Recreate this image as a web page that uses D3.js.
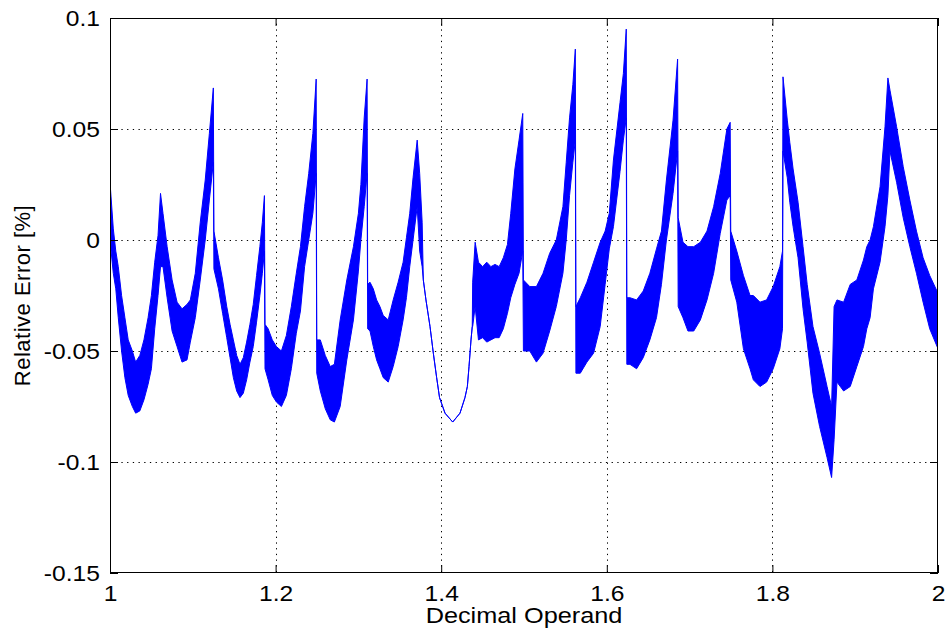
<!DOCTYPE html>
<html>
<head>
<meta charset="utf-8">
<script src="https://cdn.jsdelivr.net/npm/d3@7"></script>
<style>
  html, body { margin: 0; padding: 0; background: #fff; }
  svg text { font-family: "Liberation Sans", Arial, Helvetica, sans-serif; fill: #000; }
</style>
</head>
<body>
<svg id="chart" width="947" height="635"></svg>
<script>
// Decimal operand samples and the upper / lower envelope of the relative error [%]
const operand = [
  1.000, 1.004, 1.007, 1.010, 1.014, 1.018, 1.022, 1.027, 1.031, 1.036, 1.041, 1.046, 1.050, 1.054, 1.058, 1.061,
  1.064, 1.069, 1.075, 1.081, 1.087, 1.093, 1.097, 1.103, 1.109, 1.115, 1.120, 1.1248,
  1.1255, 1.131, 1.136, 1.141, 1.145, 1.149, 1.153, 1.157, 1.161, 1.165, 1.169, 1.173, 1.177, 1.181, 1.184, 1.1865,
  1.1872, 1.191, 1.196, 1.201, 1.207, 1.213, 1.219, 1.225, 1.230, 1.235, 1.240, 1.245, 1.2490,
  1.2497, 1.254, 1.260, 1.266, 1.271, 1.278, 1.286, 1.294, 1.300, 1.303, 1.307, 1.3105,
  1.3112, 1.314, 1.318, 1.322, 1.326, 1.330, 1.336, 1.342, 1.348, 1.354, 1.358, 1.362, 1.366, 1.371,
  1.374, 1.377, 1.3784, 1.3816, 1.3865, 1.3905, 1.3945, 1.398, 1.4046, 1.4139, 1.4227, 1.4287, 1.4316, 1.4336, 1.436, 1.4375,
  1.438, 1.441, 1.445, 1.450, 1.455, 1.460, 1.465, 1.470, 1.475, 1.480, 1.484, 1.489, 1.494, 1.4985,
  1.4993, 1.507, 1.515, 1.523, 1.531, 1.539, 1.547, 1.551, 1.555, 1.559, 1.562,
  1.5627, 1.568, 1.576, 1.584, 1.592, 1.598, 1.603, 1.608, 1.616, 1.620, 1.6235,
  1.6242, 1.628, 1.636, 1.644, 1.652, 1.660, 1.666, 1.672, 1.680, 1.6855,
  1.6862, 1.692, 1.698, 1.705, 1.713, 1.721, 1.729, 1.737, 1.745, 1.749,
  1.7497, 1.757, 1.765, 1.773, 1.777, 1.785, 1.793, 1.801, 1.809, 1.8122,
  1.8128, 1.818, 1.821, 1.825, 1.831, 1.837, 1.842, 1.849, 1.857, 1.866, 1.8715,
  1.8745, 1.878, 1.886, 1.894, 1.902, 1.910, 1.914, 1.918, 1.922, 1.930, 1.936, 1.9395,
  1.942, 1.950, 1.958, 1.966, 1.974, 1.982, 1.990, 2.000
];

const errUpper = [
  0.026, 0.005, -0.005, -0.012, -0.025, -0.035, -0.045, -0.050, -0.055, -0.052, -0.045, -0.035, -0.025, -0.010, 0.002, 0.021,
  0.012, -0.003, -0.018, -0.028, -0.031, -0.029, -0.027, -0.015, 0.008, 0.027, 0.048, 0.0685,
  0.004, -0.008, -0.018, -0.030, -0.038, -0.045, -0.052, -0.056, -0.053, -0.046, -0.038, -0.029, -0.016, -0.003, 0.008, 0.020,
  -0.038, -0.040, -0.045, -0.048, -0.050, -0.043, -0.030, -0.015, -0.003, 0.015, 0.030, 0.048, 0.0725,
  -0.045, -0.045, -0.052, -0.057, -0.056, -0.036, -0.018, -0.003, 0.012, 0.025, 0.055, 0.0725,
  -0.020, -0.019, -0.022, -0.027, -0.030, -0.034, -0.036, -0.027, -0.019, -0.010, 0.001, 0.012, 0.028, 0.045,
  0.030, 0.008, -0.018, -0.027, -0.039, -0.051, -0.062, -0.071, -0.078, -0.082, -0.078, -0.071, -0.066, -0.057, -0.045, -0.039,
  -0.019, -0.001, -0.010, -0.012, -0.010, -0.012, -0.011, -0.012, -0.008, -0.002, 0.012, 0.032, 0.045, 0.057,
  -0.018, -0.021, -0.021, -0.015, -0.006, 0.000, 0.015, 0.035, 0.055, 0.070, 0.086,
  -0.030, -0.026, -0.019, -0.010, -0.001, 0.004, 0.012, 0.036, 0.062, 0.075, 0.095,
  -0.026, -0.026, -0.027, -0.023, -0.015, -0.004, 0.004, 0.027, 0.054, 0.0815,
  0.010, -0.001, -0.003, -0.003, -0.001, 0.004, 0.015, 0.030, 0.050, 0.053,
  0.004, -0.005, -0.016, -0.025, -0.025, -0.028, -0.027, -0.021, -0.012, -0.005,
  0.0735, 0.054, 0.044, 0.032, 0.017, -0.003, -0.020, -0.039, -0.051, -0.066, -0.075,
  -0.030, -0.027, -0.028, -0.020, -0.018, -0.009, -0.003, 0.000, 0.006, 0.024, 0.051, 0.073,
  0.0675, 0.051, 0.033, 0.018, 0.004, -0.008, -0.016, -0.024
];

const errLower = [
  0.000, -0.015, -0.022, -0.035, -0.050, -0.062, -0.070, -0.075, -0.078, -0.077, -0.072, -0.065, -0.058, -0.040, -0.025, -0.012,
  -0.012, -0.026, -0.041, -0.048, -0.055, -0.054, -0.046, -0.035, -0.018, 0.000, 0.018, 0.035,
  -0.013, -0.022, -0.033, -0.044, -0.053, -0.062, -0.068, -0.071, -0.069, -0.063, -0.055, -0.048, -0.037, -0.025, -0.015, -0.005,
  -0.058, -0.063, -0.070, -0.073, -0.075, -0.070, -0.058, -0.042, -0.032, -0.012, 0.000, 0.012, 0.030,
  -0.060, -0.068, -0.076, -0.081, -0.082, -0.075, -0.054, -0.036, -0.014, 0.000, 0.015, 0.030,
  -0.040, -0.041, -0.048, -0.054, -0.058, -0.062, -0.064, -0.057, -0.048, -0.036, -0.026, -0.012, 0.000, 0.015,
  -0.005, -0.012, -0.018, -0.027, -0.039, -0.051, -0.062, -0.071, -0.078, -0.082, -0.078, -0.071, -0.066, -0.057, -0.045, -0.039,
  -0.039, -0.030, -0.045, -0.044, -0.046, -0.045, -0.044, -0.044, -0.040, -0.033, -0.026, -0.020, -0.015, -0.005,
  -0.050, -0.050, -0.055, -0.051, -0.041, -0.030, -0.015, 0.000, 0.020, 0.035, 0.045,
  -0.060, -0.060, -0.055, -0.051, -0.039, -0.020, -0.004, 0.006, 0.031, 0.045, 0.055,
  -0.056, -0.056, -0.058, -0.053, -0.045, -0.035, -0.020, 0.000, 0.021, 0.040,
  -0.030, -0.035, -0.041, -0.041, -0.036, -0.027, -0.015, 0.003, 0.018, 0.020,
  -0.018, -0.028, -0.049, -0.058, -0.063, -0.066, -0.064, -0.058, -0.049, -0.040,
  0.040, 0.028, 0.017, 0.006, -0.008, -0.031, -0.046, -0.069, -0.084, -0.098, -0.107,
  -0.090, -0.064, -0.068, -0.066, -0.057, -0.048, -0.040, -0.035, -0.022, -0.010, 0.006, 0.020,
  0.040, 0.026, 0.010, -0.003, -0.015, -0.028, -0.040, -0.049
];

const xTicks = [1, 1.2, 1.4, 1.6, 1.8, 2];
const yTicks = [-0.15, -0.1, -0.05, 0, 0.05, 0.1];
const xTitle = "Decimal Operand";
const yTitle = "Relative Error [%]";

const svg = d3.select("#chart");
const margin = { left: 110, top: 18, right: 9, bottom: 62 };
const W = 947 - margin.left - margin.right;
const H = 635 - margin.top - margin.bottom;

const x = d3.scaleLinear().domain([1, 2]).range([0, W]);
const y = d3.scaleLinear().domain([-0.15, 0.1]).range([H, 0]);

const g = svg.append("g").attr("transform", `translate(${margin.left},${margin.top})`);

// dotted grid
const grid = g.append("g").attr("stroke", "#000").attr("stroke-width", 1)
  .attr("stroke-dasharray", "1.3,4.4").attr("fill", "none");
grid.selectAll("line.gx").data(xTicks.slice(1, -1)).join("line")
  .attr("x1", d => Math.round(x(d)) + 0.5).attr("x2", d => Math.round(x(d)) + 0.5)
  .attr("y1", 0).attr("y2", H);
grid.selectAll("line.gy").data(yTicks.slice(1, -1)).join("line")
  .attr("y1", d => Math.round(y(d)) + 0.5).attr("y2", d => Math.round(y(d)) + 0.5)
  .attr("x1", 0).attr("x2", W);

// error envelope
const series = operand.map((v, i) => ({ v, hi: errUpper[i], lo: errLower[i] }));
svg.append("defs").append("clipPath").attr("id", "plotClip")
  .append("rect").attr("width", W).attr("height", H);

const band = d3.area()
  .x(d => x(d.v))
  .y0(d => y(d.lo))
  .y1(d => y(d.hi));

g.append("path")
  .datum(series)
  .attr("clip-path", "url(#plotClip)")
  .attr("d", band)
  .attr("fill", "#0000ff")
  .attr("stroke", "#0000ff")
  .attr("stroke-width", 1)
  .attr("stroke-linejoin", "round");

// axes: labelled bottom/left, inward ticks on all four sides
const tick = 8;
const fmt = d => String(d);

const ax = g.append("g").attr("transform", `translate(0,${H})`)
  .call(d3.axisBottom(x).tickValues(xTicks).tickFormat(fmt).tickSizeInner(-tick).tickSizeOuter(0).tickPadding(12));
const ay = g.append("g")
  .call(d3.axisLeft(y).tickValues(yTicks).tickFormat(fmt).tickSizeInner(-tick).tickSizeOuter(0).tickPadding(9));
const at = g.append("g")
  .call(d3.axisTop(x).tickValues(xTicks).tickFormat("").tickSizeInner(-tick).tickSizeOuter(0));
const ar = g.append("g").attr("transform", `translate(${W},0)`)
  .call(d3.axisRight(y).tickValues(yTicks).tickFormat("").tickSizeInner(-tick).tickSizeOuter(0));

[ax, ay, at, ar].forEach(a => {
  a.select(".domain").remove();
  a.selectAll(".tick line").attr("stroke", "#000").attr("stroke-width", 1);
  a.selectAll("text").attr("font-size", 22).attr("font-family", "Liberation Sans, Arial, sans-serif")
    .attr("fill", "#000").attr("transform", "scale(1.12,1)");
});

g.append("rect").attr("x", 0.5).attr("y", 0.5).attr("width", W - 1).attr("height", H - 1)
  .attr("fill", "none").attr("stroke", "#000").attr("stroke-width", 1);

// axis titles
svg.append("text")
  .attr("transform", `translate(${margin.left + W / 2},623) scale(1.15,1)`)
  .attr("text-anchor", "middle").attr("font-size", 22)
  .text(xTitle);

svg.append("text")
  .attr("transform", `translate(30,${margin.top + H / 2}) rotate(-90)`)
  .attr("text-anchor", "middle").attr("font-size", 22).attr("letter-spacing", 0.5)
  .text(yTitle);
</script>
</body>
</html>
